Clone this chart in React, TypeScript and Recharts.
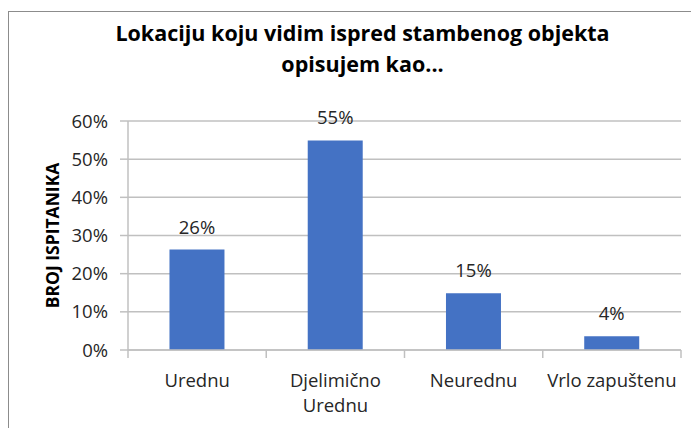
import { BarChart, Bar, XAxis, YAxis, CartesianGrid, LabelList } from 'recharts';

const categories = ['Urednu', 'Djelimično Urednu', 'Neurednu', 'Vrlo zapuštenu'];
const shares = [26.3, 54.9, 14.9, 3.6];
const yTicks = [0, 10, 20, 30, 40, 50, 60];

const data = categories.map((name, i) => ({ name, value: shares[i] }));

const FONT = '"Open Sans", Calibri, sans-serif';
const GRID = '#c0c0c0';
const TEXT = '#262626';

function CategoryTick(props: any) {
  const { x, y, payload, index, visibleTicksCount } = props;
  const half = payload.offset ?? 69;
  const words = payload.value === 'Djelimično Urednu' ? ['Djelimično', 'Urednu'] : [payload.value];
  const isLast = index === (visibleTicksCount ?? categories.length) - 1;
  return (
    <g>
      <line x1={x - half} x2={x - half} y1={y} y2={y + 8} stroke={GRID} strokeWidth={1.5} />
      {isLast && <line x1={x + half} x2={x + half} y1={y} y2={y + 8} stroke={GRID} strokeWidth={1.5} />}
      {words.map((w: string, i: number) => (
        <text key={w} x={x} y={y + 37 + i * 25} textAnchor="middle" fontSize={18.5} fill={TEXT} fontFamily={FONT}>
          {w}
        </text>
      ))}
    </g>
  );
}

export default function App() {
  return (
    <div style={{ position: 'absolute', left: 0, top: 0, width: 691, height: 428, background: '#fff', overflow: 'hidden' }}>
      <div style={{ position: 'absolute', left: 8, top: 11, width: 700, height: 440, border: '1px solid #8c8c8c' }} />
      <div
        style={{
          position: 'absolute',
          left: 0,
          top: 17,
          width: 725,
          textAlign: 'center',
          fontFamily: FONT,
          fontWeight: 700,
          fontSize: 21.5,
          lineHeight: '31px',
          color: '#000',
        }}
      >
        Lokaciju koju vidim ispred stambenog objekta
        <br />
        opisujem kao...
      </div>
      <div style={{ position: 'absolute', left: 0, top: 0 }}>
        <BarChart width={691} height={428} data={data} margin={{ top: 121, right: 10, bottom: 0, left: 0 }} barCategoryGap="30%">
          <CartesianGrid vertical={false} stroke={GRID} strokeWidth={1.5} />
          <XAxis
            dataKey="name"
            height={78}
            tickSize={0}
            tickMargin={0}
            tickLine={false}
            axisLine={{ stroke: GRID, strokeWidth: 1.5 }}
            interval={0}
            tick={<CategoryTick />}
          />
          <YAxis
            width={128}
            domain={[0, 60]}
            ticks={yTicks}
            tickFormatter={(v: number) => `${v}%`}
            tickSize={8}
            tickMargin={12}
            tickLine={{ stroke: GRID, strokeWidth: 1.5 }}
            axisLine={{ stroke: GRID, strokeWidth: 1.5 }}
            tick={{ fontSize: 18.5, fill: TEXT, fontFamily: FONT }}
            label={{
              content: ({ viewBox }: any) => {
                const cx = viewBox.x + 52;
                const cy = viewBox.y + viewBox.height / 2;
                return (
                  <text
                    x={cx}
                    y={cy}
                    transform={`rotate(-90 ${cx} ${cy})`}
                    textAnchor="middle"
                    dominantBaseline="central"
                    fontSize={17.5}
                    fontWeight={700}
                    fontFamily={FONT}
                    fill="#000"
                  >
                    BROJ ISPITANIKA
                  </text>
                );
              },
            }}
          />
          <Bar dataKey="value" fill="#4472C4" isAnimationActive={false}>
            <LabelList
              dataKey="value"
              position="top"
              offset={16}
              formatter={(v: any) => `${Math.round(Number(v))}%`}
              style={{ fontSize: 18.5, fill: TEXT, fontFamily: FONT }}
            />
          </Bar>
        </BarChart>
      </div>
    </div>
  );
}
